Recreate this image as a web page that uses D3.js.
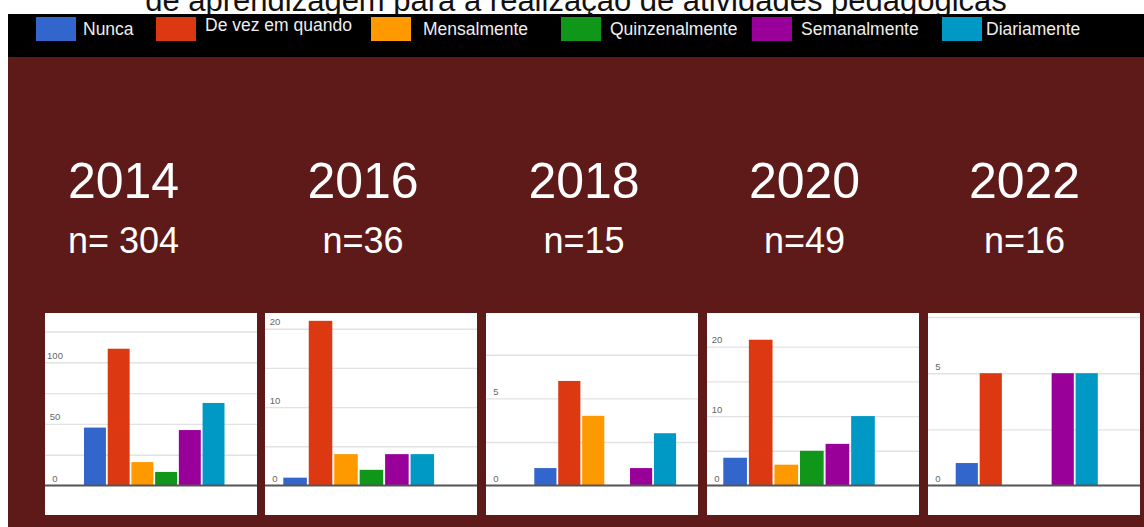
<!DOCTYPE html>
<html>
<head>
<meta charset="utf-8">
<script src="https://cdn.jsdelivr.net/npm/d3@7"></script>
<style>
  html, body { margin: 0; padding: 0; background: #ffffff; overflow: hidden; }
  svg { display: block; font-family: "Liberation Sans", Arial, sans-serif; }
</style>
</head>
<body>
<svg id="chart" width="1144" height="527"></svg>
<script>
// Answer categories (legend order) and survey rounds
const frequencies = ["Nunca", "De vez em quando", "Mensalmente", "Quinzenalmente", "Semanalmente", "Diariamente"];
const years = ["2014", "2016", "2018", "2020", "2022"];
const respondents = ["n= 304", "n=36", "n=15", "n=49", "n=16"];

// Number of answers per category, one array per survey round
const counts2014 = [47, 111, 19, 11, 45, 67];
const counts2016 = [1, 21, 4, 2, 4, 4];
const counts2018 = [1, 6, 4, 0, 1, 3];
const counts2020 = [4, 21, 3, 5, 6, 10];
const counts2022 = [1, 5, 0, 0, 5, 5];

// Labelled y ticks and gridline steps for each small chart
const tickLabels2014 = [0, 50, 100];
const tickLabels2016 = [0, 10, 20];
const tickLabels2018 = [0, 5];
const tickLabels2020 = [0, 10, 20];
const tickLabels2022 = [0, 5];
const gridSteps = [25, 5, 2.5, 5, 2.5];

const colors = ["#3366cc", "#dc3912", "#ff9900", "#109618", "#990099", "#0099c6"];

const rounds = years.map((y, i) => ({
  year: y,
  n: respondents[i],
  values: [counts2014, counts2016, counts2018, counts2020, counts2022][i],
  ticks: [tickLabels2014, tickLabels2016, tickLabels2018, tickLabels2020, tickLabels2022][i],
  step: gridSteps[i]
}));

// ---- layout ----
const W = 1144, H = 527;
const bandTop = 14, bandBottom = 57, pageLeft = 8;
const panelLeft = [45, 265, 486, 707, 928];
const panelW = 212, panelTop = 313, panelBottom = 515, baseY = 485.5;
const axisMax = [140, 22, 9.9, 24.85, 7.68];
const barSpan = [[84, 222.7], [283.3, 432.3], [534.3, 674.3], [723.3, 873], [955.7, 1096]];
const headerX = [123.5, 363, 584, 804.5, 1024.5];

const svg = d3.select("#chart");

svg.append("defs").append("clipPath").attr("id", "titleClip")
  .append("rect").attr("x", 0).attr("y", 0).attr("width", W).attr("height", bandTop);

// title line (upper part runs off the top of the page)
svg.append("text")
  .attr("clip-path", "url(#titleClip)")
  .attr("x", 576).attr("y", 11)
  .attr("text-anchor", "middle")
  .attr("font-size", 31)
  .attr("fill", "#111")
  .text("de aprendizagem para a realização de atividades pedagógicas");

// maroon page
svg.append("rect").attr("x", pageLeft).attr("y", bandBottom)
  .attr("width", W - pageLeft).attr("height", H - bandBottom).attr("fill", "#5e1919");

// legend band
svg.append("rect").attr("x", pageLeft).attr("y", bandTop)
  .attr("width", W - pageLeft).attr("height", bandBottom - bandTop).attr("fill", "#000");

const swatchX = [36, 156, 371, 561, 752, 942];
const labelX = [83, 205, 423, 610, 801, 986];
const legend = svg.append("g").attr("class", "legend");
frequencies.forEach((f, i) => {
  legend.append("rect")
    .attr("x", swatchX[i]).attr("y", 17).attr("width", 40).attr("height", 24)
    .attr("fill", colors[i]);
  legend.append("text")
    .attr("x", labelX[i]).attr("y", i === 1 ? 31 : 35)
    .attr("font-size", 17.5).attr("fill", "#eeeeee")
    .text(f);
});

// one small bar chart per survey round
rounds.forEach((r, i) => {
  const g = svg.append("g").attr("class", "round");

  g.append("text")
    .attr("x", headerX[i]).attr("y", 198)
    .attr("text-anchor", "middle").attr("font-size", 50).attr("fill", "#ffffff")
    .text(r.year);
  g.append("text")
    .attr("x", headerX[i]).attr("y", 253)
    .attr("text-anchor", "middle").attr("font-size", 36).attr("fill", "#ffffff")
    .text(r.n);

  const x0 = panelLeft[i];
  g.append("rect")
    .attr("x", x0).attr("y", panelTop)
    .attr("width", panelW).attr("height", panelBottom - panelTop)
    .attr("fill", "#ffffff");

  const y = d3.scaleLinear().domain([0, axisMax[i]]).range([baseY, panelTop]);

  // gridlines
  const gridVals = d3.range(r.step, axisMax[i], r.step);
  g.append("g")
    .attr("transform", `translate(${x0},0)`)
    .call(d3.axisLeft(y).tickValues(gridVals).tickSize(-panelW).tickFormat(""))
    .call(a => a.select(".domain").remove())
    .call(a => a.selectAll(".tick line").attr("stroke", "#e2e2e2").attr("stroke-width", 1.4));

  // bars
  const [a, b] = barSpan[i];
  const gap = 1.8;
  const x = d3.scaleBand().domain(frequencies).range([a, b + gap]).paddingInner(0.075).paddingOuter(0);
  g.append("g").selectAll("rect")
    .data(frequencies.map((f, k) => ({ f, v: r.values[k], c: colors[k] })))
    .join("rect")
    .attr("x", d => x(d.f))
    .attr("width", x.bandwidth())
    .attr("y", d => y(d.v))
    .attr("height", d => baseY - y(d.v))
    .attr("fill", d => d.c);

  // baseline
  g.append("line")
    .attr("x1", x0).attr("x2", x0 + panelW)
    .attr("y1", baseY).attr("y2", baseY)
    .attr("stroke", "#555").attr("stroke-width", 1.8);

  // tick labels
  g.append("g").selectAll("text")
    .data(r.ticks)
    .join("text")
    .attr("x", x0 + 10)
    .attr("y", d => y(d) - 3.5)
    .attr("text-anchor", "middle")
    .attr("font-size", 9.5)
    .attr("fill", "#666")
    .text(d => d);
});
</script>
</body>
</html>
